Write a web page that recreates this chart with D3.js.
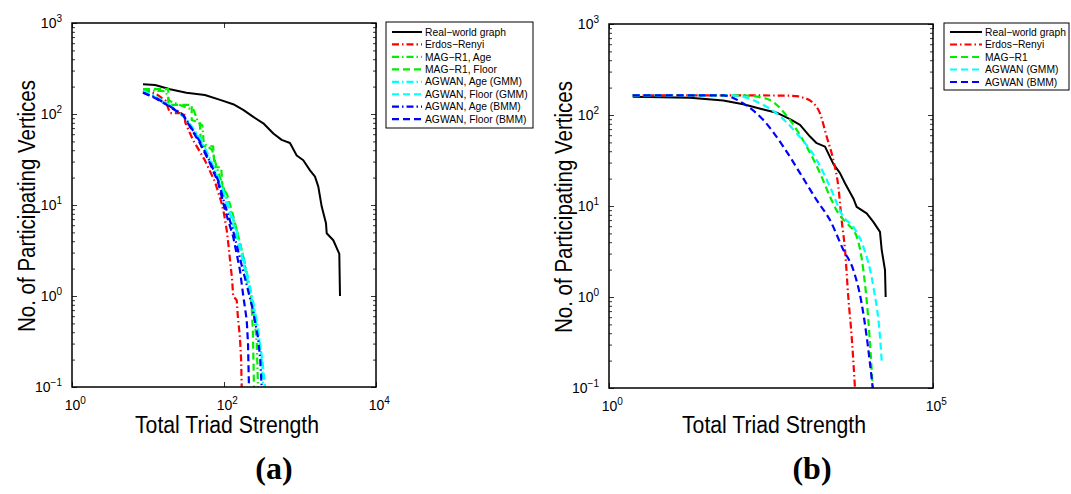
<!DOCTYPE html>
<html>
<head>
<meta charset="utf-8">
<script src="https://cdn.jsdelivr.net/npm/d3@7"></script>
<style>
  body { margin: 0; background: #fff; }
  svg text { font-family: "Liberation Sans", Arial, Helvetica, sans-serif; fill: #000; }
</style>
</head>
<body>
<svg id="fig" width="1071" height="494"></svg>
<script>
// ---------- data: (a) triad strength, Age / Floor attributes ----------
const aRealWorld = [[8.6,212],[12.4,208],[19.5,187],[32,171],[56,162],[89,143],[132,128],[179,111],[243,93],[329,79],[446,61],[574,52],[738,48],[905,35],[1105,31],[1354,24],[1575,20.5],[1741,15.9],[1930,9.6],[2198,6.3],[2245,4.9],[2742,4.1],[3290,2.9],[3360,1.0]];
const aErdosRenyi = [[8.6,185],[13,165],[17,140],[19.5,102],[30,102],[31,80],[39,52],[56,31],[76,18],[93,10.5],[100,8],[108.6,5.3],[115,3.5],[120,2.5],[128,1.5],[132,1.0],[147,0.9],[152,0.6],[162,0.35],[168,0.2],[171,0.1]];
const aMagAge = [[8.6,182],[17,178],[19,140],[30,120],[40,110],[46,80],[52,75],[54,48],[70,40],[80,26],[100,15],[120,9],[150,5],[180,2.7],[220,1.2],[250,0.6],[270,0.3],[280,0.1]];
const aMagFloor = [[8.6,188],[18.5,188],[18.5,126],[37.6,126],[37.6,86],[48,80],[50,44],[72,44],[75,26],[92,26],[95,16],[110,13],[130,8],[150,5],[180,2.6],[205,1.4],[231,0.8],[240,0.4],[248,0.1]];
const aAgwanAgeGMM = [[8.6,180],[12,160],[18,130],[30,95],[48,55],[65,33],[84,20],[110,11],[140,6],[170,3.2],[200,1.8],[240,0.9],[280,0.45],[310,0.22],[329,0.1]];
const aAgwanFloorGMM = [[8.6,176],[12,155],[18,128],[30,92],[48,52],[65,31],[84,19],[110,10],[140,5.2],[170,2.8],[200,1.6],[240,0.8],[280,0.4],[320,0.2],[346,0.1]];
const aAgwanAgeBMM = [[8.6,172],[12.4,152],[17.6,128],[29,98],[48,50],[65,30],[84,18.5],[103,10],[132,5.2],[162,2.6],[200,1.3],[240,0.7],[280,0.35],[300,0.2],[313,0.1]];
const aAgwanFloorBMM = [[8.6,171],[12.4,150],[17.6,126],[29,97],[48,48],[65,29],[84,17.5],[103,8.8],[132,4.5],[162,1.93],[180,0.98],[199,0.545],[207,0.3],[213,0.1]];

// ---------- data: (b) triad strength, all attributes ----------
const bRealWorld = [[2.32,159],[17.8,155],[58,144],[118,131],[241,115],[387,106],[621,90],[887,78],[1265,58],[1604,49],[2154,45],[2896,29],[3672,23],[4386,17.8],[5900,12.1],[6640,9.8],[9480,8.3],[12000,6.7],[15200,5.2],[16150,3.3],[18160,1.98],[18600,1.0]];
const bErdosRenyi = [[2.32,164],[200,164],[600,163],[850,160],[996,155],[1343,140],[1804,104],[2285,58],[2896,32],[3460,16.3],[3890,7.0],[4386,3.3],[4930,1.0],[5560,0.366],[6250,0.1]];
const bMagR1 = [[2.32,164],[118,164],[200,158],[305,146],[621,88],[1122,45],[1804,23],[2570,12.7],[3460,8.3],[4660,6.5],[6640,4.6],[8410,1.98],[10050,0.56],[11750,0.1]];
const bAgwanGMM = [[2.32,164],[74,164],[120,158],[190,140],[387,104],[788,63],[1604,32],[2570,16.3],[4130,7.6],[5900,5.9],[8410,3.57],[12000,1.3],[15200,0.366],[16150,0.2]];
const bAgwanBMM = [[2.32,164],[58,164],[118,134],[241,88],[490,45],[887,23],[1604,11.6],[2570,7.0],[4130,3.3],[5900,1.98],[7920,0.85],[9480,0.366],[11750,0.1]];

// ---------- axis ticks and labels ----------
const yTicks = [0.1, 1, 10, 100, 1000];
const aXTicks = [1, 100, 10000];
const bXTicks = [1, 100000];
const xTitle = "Total Triad Strength";
const yTitle = "No. of Participating Vertices";
const aNames = ["Real\u2212world graph","Erdos\u2212Renyi","MAG\u2212R1, Age","MAG\u2212R1, Floor","AGWAN, Age (GMM)","AGWAN, Floor (GMM)","AGWAN, Age (BMM)","AGWAN, Floor (BMM)"];
const bNames = ["Real\u2212world graph","Erdos\u2212Renyi","MAG\u2212R1","AGWAN (GMM)","AGWAN (BMM)"];

// ---------- styles ----------
const SOLID = null, DASH = "7,4", DASHDOT = "7,3,1.5,3";
const aStyles = [
  {color:"#000000", dash:SOLID, w:2},
  {color:"#ff0000", dash:DASHDOT, w:2.2},
  {color:"#00ee00", dash:DASHDOT, w:2.2},
  {color:"#00ee00", dash:DASH, w:2.2},
  {color:"#00ffff", dash:DASHDOT, w:2.2},
  {color:"#00ffff", dash:DASH, w:2.2},
  {color:"#0000ff", dash:DASHDOT, w:2.2},
  {color:"#0000ff", dash:DASH, w:2.2}
];
const bStyles = [
  {color:"#000000", dash:SOLID, w:2},
  {color:"#ff0000", dash:DASHDOT, w:2.2},
  {color:"#00ee00", dash:DASH, w:2.2},
  {color:"#00ffff", dash:DASH, w:2.2},
  {color:"#0000ff", dash:DASH, w:2.2}
];

const svg = d3.select("#fig");

// minor ticks 2..9 inside every decade of the y range
const yMinor = [];
for (let i = 0; i < yTicks.length - 1; i++)
  for (let k = 2; k <= 9; k++) yMinor.push(yTicks[i] * k);

function superscriptLabels(axisG, isX) {
  axisG.attr("font-size", 14).attr("font-family", null);
  axisG.selectAll(".tick text").each(function(d) {
    const t = d3.select(this);
    const e = Math.round(Math.log10(d));
    t.text(null);
    if (isX) t.attr("text-anchor", "start").attr("x", -7.8);
    t.append("tspan").text("10");
    t.append("tspan").attr("dy", "-0.55em").attr("font-size", "10px")
      .text(e < 0 ? "\u2212" + (-e) : String(e));
  });
}

function drawPanel(p) {
  const x = d3.scaleLog().domain(p.xDomain).range([p.left, p.right]);
  const y = d3.scaleLog().domain([yTicks[0], yTicks[yTicks.length - 1]]).range([p.bottom, p.top]);

  const clipId = "clip-" + p.id;
  svg.append("clipPath").attr("id", clipId).append("rect")
    .attr("x", p.left).attr("y", p.top)
    .attr("width", p.right - p.left).attr("height", p.bottom - p.top);

  // curves
  const plot = svg.append("g").attr("clip-path", `url(#${clipId})`);
  p.series.forEach((data, i) => {
    const st = p.styles[i];
    const line = d3.line().x(d => x(d[0])).y(d => y(d[1]))
      .curve(i > 0 && p.smooth ? d3.curveMonotoneX : d3.curveLinear);
    plot.append("path").datum(data)
      .attr("d", line)
      .attr("fill", "none")
      .attr("stroke", st.color)
      .attr("stroke-width", st.w)
      .attr("stroke-dasharray", st.dash)
      .attr("stroke-linejoin", "round");
  });

  const axes = svg.append("g");

  // left axis with labels
  const gl = axes.append("g").attr("transform", `translate(${p.left},0)`)
    .call(d3.axisLeft(y).tickValues(yTicks).tickSize(-5).tickPadding(10));
  superscriptLabels(gl, false);
  axes.append("g").attr("transform", `translate(${p.left},0)`)
    .call(d3.axisLeft(y).tickValues(yMinor).tickSize(-3).tickFormat(""));
  // right axis ticks
  axes.append("g").attr("transform", `translate(${p.right},0)`)
    .call(d3.axisRight(y).tickValues(yTicks).tickSize(-5).tickFormat(""));
  axes.append("g").attr("transform", `translate(${p.right},0)`)
    .call(d3.axisRight(y).tickValues(yMinor).tickSize(-3).tickFormat(""));
  // bottom axis with labels
  const gb = axes.append("g").attr("transform", `translate(0,${p.bottom})`)
    .call(d3.axisBottom(x).tickValues(p.xTicks).tickSize(-5).tickPadding(13));
  superscriptLabels(gb, true);
  // top axis ticks
  axes.append("g").attr("transform", `translate(0,${p.top})`)
    .call(d3.axisTop(x).tickValues(p.xTicks).tickSize(-5).tickFormat(""));

  axes.selectAll(".domain").remove();
  axes.selectAll(".tick line").attr("stroke", "#000").attr("stroke-width", 0.8);
  axes.selectAll(".tick text").attr("fill", "#000");

  // frame
  svg.append("rect").attr("x", p.left).attr("y", p.top)
    .attr("width", p.right - p.left).attr("height", p.bottom - p.top)
    .attr("fill", "none").attr("stroke", "#000").attr("stroke-width", 1.5);

  // axis titles
  svg.append("text").attr("x", (p.left + p.right) / 2 + 3).attr("y", 433)
    .attr("text-anchor", "middle").attr("font-size", 23)
    .attr("textLength", 184).attr("lengthAdjust", "spacingAndGlyphs")
    .text(xTitle);
  svg.append("text")
    .attr("transform", `translate(${p.yTitleX},${(p.top + p.bottom) / 2 + 1}) rotate(-90)`)
    .attr("text-anchor", "middle").attr("font-size", 23)
    .attr("textLength", 252).attr("lengthAdjust", "spacingAndGlyphs")
    .text(yTitle);

  // panel caption
  svg.append("text").attr("x", p.captionX).attr("y", 479)
    .attr("text-anchor", "middle")
    .style("font-family", '"Liberation Serif", "Times New Roman", serif')
    .attr("font-weight", "bold").attr("font-size", 32)
    .text(p.caption);

  // legend
  const L = p.legend;
  const lg = svg.append("g");
  lg.append("rect").attr("x", L.x).attr("y", L.y).attr("width", L.w).attr("height", L.h)
    .attr("fill", "#fff").attr("stroke", "#000").attr("stroke-width", 1);
  p.names.forEach((name, i) => {
    const st = p.styles[i];
    const yy = L.row0 + i * L.step;
    lg.append("line").attr("x1", L.x + L.s0).attr("x2", L.x + L.s1)
      .attr("y1", yy).attr("y2", yy)
      .attr("stroke", st.color).attr("stroke-width", st.w)
      .attr("stroke-dasharray", st.dash);
    lg.append("text").attr("x", L.x + L.tx).attr("y", yy).attr("dy", "0.35em")
      .attr("font-size", 10.3).text(name);
  });
}

drawPanel({
  id: "a", left: 72, right: 376, top: 23, bottom: 387,
  xDomain: [aXTicks[0], aXTicks[aXTicks.length - 1]], xTicks: aXTicks,
  series: [aRealWorld, aErdosRenyi, aMagAge, aMagFloor, aAgwanAgeGMM, aAgwanFloorGMM, aAgwanAgeBMM, aAgwanFloorBMM],
  styles: aStyles, names: aNames, smooth: false,
  yTitleX: 35, captionX: 274, caption: "(a)",
  legend: {x: 386, y: 22, w: 147, h: 106, row0: 32, step: 12.45, s0: 6, s1: 36, tx: 39}
});

drawPanel({
  id: "b", left: 609, right: 933, top: 24, bottom: 388,
  xDomain: [bXTicks[0], bXTicks[bXTicks.length - 1]], xTicks: bXTicks,
  series: [bRealWorld, bErdosRenyi, bMagR1, bAgwanGMM, bAgwanBMM],
  styles: bStyles, names: bNames, smooth: true,
  yTitleX: 572, captionX: 812, caption: "(b)",
  legend: {x: 944, y: 23, w: 125, h: 67, row0: 32, step: 12.5, s0: 6, s1: 38, tx: 41}
});
</script>
</body>
</html>
